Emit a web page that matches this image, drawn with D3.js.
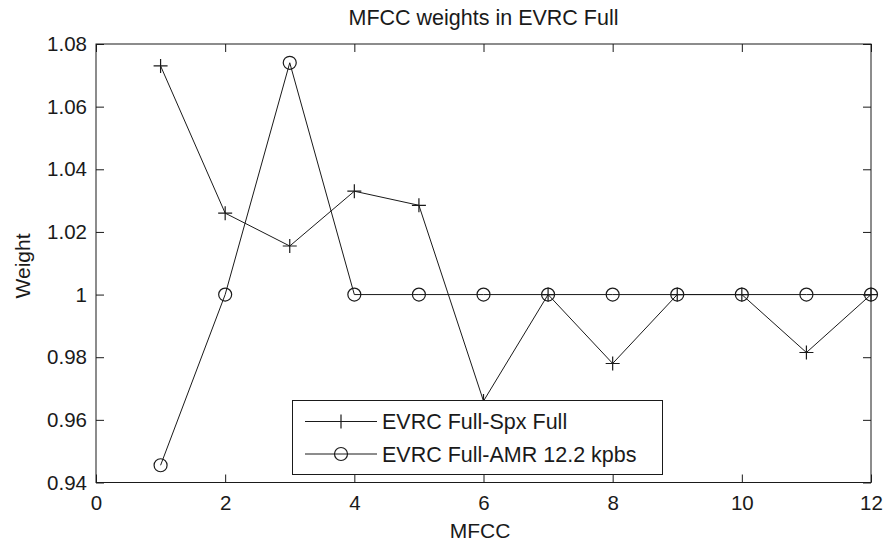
<!DOCTYPE html>
<html>
<head>
<meta charset="utf-8">
<script src="https://cdn.jsdelivr.net/npm/d3@7"></script>
<style>
  html, body { margin: 0; padding: 0; background: #fff; }
  svg { display: block; }
  text { font-family: "Liberation Sans", Arial, sans-serif; fill: #1a1a1a; }
</style>
</head>
<body>
<svg id="chart" width="885" height="544"></svg>
<script>
const mfcc = [1, 2, 3, 4, 5, 6, 7, 8, 9, 10, 11, 12];
const spxWeights = [1.073, 1.026, 1.0155, 1.033, 1.0285, 0.966, 1.0, 0.978, 1.0, 1.0, 0.9815, 1.0];
const amrWeights = [0.9455, 1.0, 1.074, 1.0, 1.0, 1.0, 1.0, 1.0, 1.0, 1.0, 1.0, 1.0];
const xTicks = [0, 2, 4, 6, 8, 10, 12];
const yTicks = [0.94, 0.96, 0.98, 1.0, 1.02, 1.04, 1.06, 1.08];
const yTickLabels = ["0.94", "0.96", "0.98", "1", "1.02", "1.04", "1.06", "1.08"];
const seriesNames = ["EVRC Full-Spx Full", "EVRC Full-AMR 12.2 kpbs"];
const titleText = "MFCC weights in EVRC Full";
const xLabel = "MFCC";
const yLabel = "Weight";

const svg = d3.select("#chart");
const L = 96, R = 871, T = 44, B = 482.5;
const x = d3.scaleLinear().domain([0, 12]).range([L, R]);
const y = d3.scaleLinear().domain([0.94, 1.08]).range([B, T]);
const ink = "#1a1a1a";

svg.append("rect").attr("x", L).attr("y", T).attr("width", R - L).attr("height", B - T)
  .attr("fill", "#fff").attr("stroke", ink).attr("stroke-width", 1);

function styleAxis(g) {
  g.select(".domain").remove();
  g.selectAll(".tick line").attr("stroke", ink);
  g.selectAll(".tick text").attr("fill", "#1a1a1a").style("font-size", "20.5px")
    .style("font-family", '"Liberation Sans", Arial, sans-serif');
}
const fmtY = d => yTickLabels[yTicks.findIndex(v => Math.abs(v - d) < 1e-9)];

svg.append("g").attr("transform", `translate(0,${B})`)
  .call(d3.axisBottom(x).tickValues(xTicks).tickSizeInner(-8).tickSizeOuter(0).tickPadding(13))
  .call(styleAxis);
svg.append("g").attr("transform", `translate(0,${T})`)
  .call(d3.axisTop(x).tickValues(xTicks).tickSizeInner(-8).tickSizeOuter(0).tickFormat(""))
  .call(styleAxis);
svg.append("g").attr("transform", `translate(${L},0)`)
  .call(d3.axisLeft(y).tickValues(yTicks).tickSizeInner(-8).tickSizeOuter(0).tickPadding(9).tickFormat(fmtY))
  .call(styleAxis);
svg.append("g").attr("transform", `translate(${R},0)`)
  .call(d3.axisRight(y).tickValues(yTicks).tickSizeInner(-8).tickSizeOuter(0).tickFormat(""))
  .call(styleAxis);

const line = d3.line().x(d => x(d[0])).y(d => y(d[1]));
const s1 = mfcc.map((m, i) => [m, spxWeights[i]]);
const s2 = mfcc.map((m, i) => [m, amrWeights[i]]);
svg.append("path").attr("d", line(s2)).attr("fill", "none").attr("stroke", ink).attr("stroke-width", 1);
svg.append("path").attr("d", line(s1)).attr("fill", "none").attr("stroke", ink).attr("stroke-width", 1);

const P = 7, CR = 6.5;
function plus(g, cx, cy) {
  g.append("path").attr("d", `M${cx - P},${cy}H${cx + P}M${cx},${cy - P}V${cy + P}`)
    .attr("stroke", ink).attr("stroke-width", 1.2).attr("fill", "none");
}
function circ(g, cx, cy) {
  g.append("circle").attr("cx", cx).attr("cy", cy).attr("r", CR)
    .attr("fill", "none").attr("stroke", ink).attr("stroke-width", 1.2);
}
const mk = svg.append("g");
s2.forEach(d => circ(mk, x(d[0]), y(d[1])));
s1.forEach(d => plus(mk, x(d[0]), y(d[1])));

const lg = svg.append("g");
lg.append("rect").attr("x", 292.5).attr("y", 400.5).attr("width", 370).attr("height", 74)
  .attr("fill", "#fff").attr("stroke", ink).attr("stroke-width", 1);
const rows = [421.5, 454];
rows.forEach((ry, i) => {
  lg.append("line").attr("x1", 305).attr("x2", 377).attr("y1", ry).attr("y2", ry)
    .attr("stroke", ink).attr("stroke-width", 1);
  if (i === 0) plus(lg, 341, ry); else circ(lg, 341, ry);
  lg.append("text").attr("x", 382).attr("y", ry).attr("dy", "0.36em")
    .style("font-size", "21.5px").text(seriesNames[i]);
});

svg.append("text").attr("x", 483.5).attr("y", 25).attr("text-anchor", "middle")
  .style("font-size", "21.5px").text(titleText);
svg.append("text").attr("x", 480).attr("y", 538).attr("text-anchor", "middle")
  .style("font-size", "21px").text(xLabel);
svg.append("text").attr("transform", "translate(30,266) rotate(-90)").attr("text-anchor", "middle")
  .style("font-size", "21px").text(yLabel);
</script>
</body>
</html>
